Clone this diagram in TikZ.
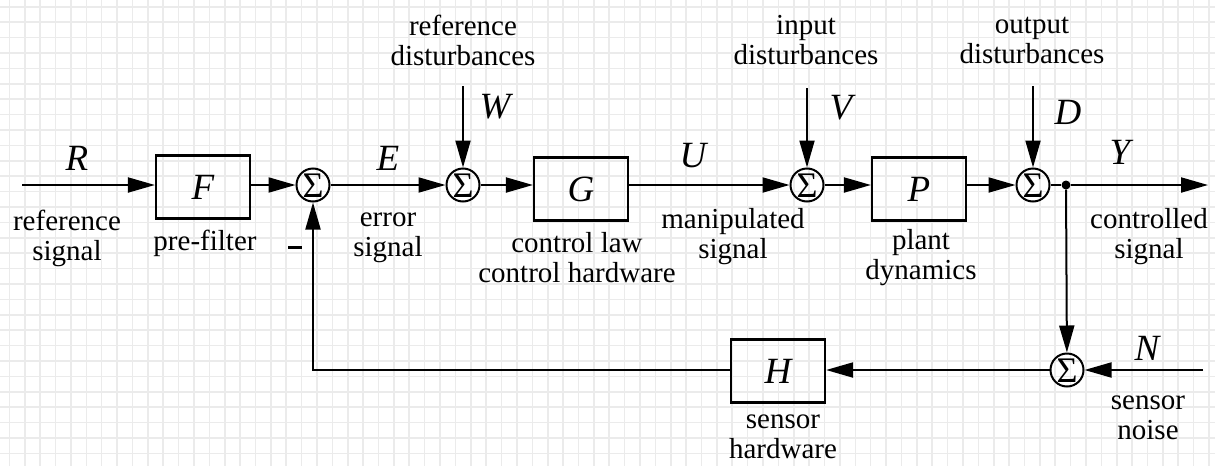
\documentclass[tikz,border=0pt]{standalone}
\usepackage{fontspec}
\setmainfont{Liberation Serif}
\usetikzlibrary{arrows.meta, positioning}

\begin{document}
\begin{tikzpicture}[x=1pt, y=-1pt, >={Triangle[length=27pt,width=15pt]},
    block/.style={draw, line width=2.2pt, minimum width=94pt, minimum height=63pt,
        font=\fontsize{37}{40}\selectfont\itshape},
    sumnode/.style={draw, circle, line width=2pt, minimum size=33pt, inner sep=0pt,
        font=\fontsize{36}{36}\selectfont, text height=24pt, text depth=-9pt},
    tapdot/.style={circle, fill, inner sep=0pt, minimum size=9pt},
    sig/.style={line width=2pt},
    txt/.style={font=\fontsize{29}{30}\selectfont, align=center},
    var/.style={font=\fontsize{37}{40}\selectfont\itshape},
    gridline/.style={line width=1.6pt, black!8}]
    % 1. Nen luoi
    \useasboundingbox (0,0) rectangle (1215,466);
    \fill[white] (0,0) rectangle (1215,466);
    \foreach \gx in {0,...,78} {
        \draw[gridline] ({9.4+15.38*\gx},0) -- ({9.4+15.38*\gx},466);
    }
    \foreach \gy in {0,...,29} {
        \draw[gridline] (0,{6.8+15.4*\gy}) -- (1215,{6.8+15.4*\gy});
    }

    % 2. Khoi va nut cong
    \node[block] (F) at (203,187) {F};
    \node[block] (G) at (581,189) {G};
    \node[block] (P) at (919,189) {P};
    \node[block] (H) at (778,371) {H};
    \node[sumnode] (s1) at (313,185) {Σ};
    \node[sumnode] (s2) at (463,185) {Σ};
    \node[sumnode] (s3) at (807,185) {Σ};
    \node[sumnode] (s4) at (1033,185) {Σ};
    \node[sumnode] (s5) at (1067,370) {Σ};
    \node[tapdot] (tap) at (1066,185) {};

    \coordinate (rin) at (22,185);
    \coordinate (yout) at (1208,185);
    \coordinate (nin) at (1203,370);
    \coordinate (win) at (463,86);
    \coordinate (vin) at (807,88);
    \coordinate (din) at (1033,86);
    \coordinate (fb) at (313,370);

    % 3. Duong tin hieu
    \draw[sig,->] (rin) -- (F.west |- rin);
    \draw[sig,->] (F.east |- s1) -- (s1);
    \draw[sig,->] (s1) -- (s2);
    \draw[sig,->] (win) -- (s2);
    \draw[sig,->] (s2) -- (G.west |- s2);
    \draw[sig,->] (G.east |- s3) -- (s3);
    \draw[sig,->] (vin) -- (s3);
    \draw[sig,->] (s3) -- (P.west |- s3);
    \draw[sig,->] (P.east |- s4) -- (s4);
    \draw[sig,->] (din) -- (s4);
    \draw[sig] (s4) -- (tap);
    \draw[sig,->] (tap) -- (yout);
    \draw[sig,->] (tap) -- (s5);
    \draw[sig,->] (nin) -- (s5);
    \draw[sig,->] (s5) -- (H.east |- s5);
    \draw[sig,->] (H.west |- s5) -- (fb) -- (s1);

    % 4. Nhan
    \node[var] (lR) at (77,158) {R};
    \node[var] (lE) at (388,158) {E};
    \node[var] (lW) at (495,107) {W};
    \node[var] (lU) at (693,156) {U};
    \node[var] (lV) at (841,108) {V};
    \node[var] (lD) at (1068,112) {D};
    \node[var] (lY) at (1120,152) {Y};
    \node[var] (lN) at (1147,348) {N};
    \node[inner sep=0pt] (minus) at (295,247.5) {\rule{14pt}{3.5pt}};

    \node[txt] (tR) at (67,238) {reference\\signal};
    \node[txt] (tF) at (205,243) {pre-filter};
    \node[txt] (tE) at (388,238) {error\\signal};
    \node[txt] (tW) at (463,40) {reference\\disturbances};
    \node[txt] (tG) at (577,258) {control law\\control hardware};
    \node[txt] (tU) at (733,237) {manipulated\\signal};
    \node[txt] (tV) at (806,40) {input\\disturbances};
    \node[txt] (tP) at (921,258) {plant\\dynamics};
    \node[txt] (tD) at (1032,40) {output\\disturbances};
    \node[txt] (tY) at (1149,237) {controlled\\signal};
    \node[txt] (tN) at (1148,418) {sensor\\noise};
    \node[txt] (tH) at (783,437) {sensor\\hardware};
\end{tikzpicture}
\end{document}
